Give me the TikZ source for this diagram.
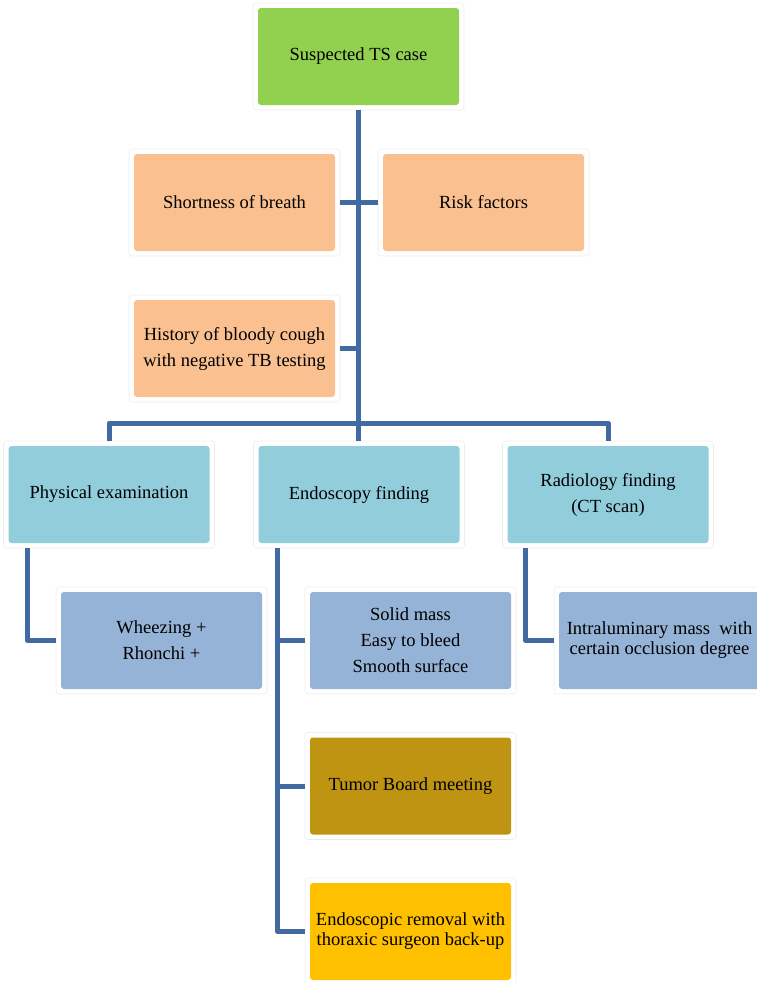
\documentclass[tikz,border=0pt]{standalone}
\usepackage{fontspec}
\setmainfont{Liberation Serif}
\usetikzlibrary{positioning}

\definecolor{caseg}{HTML}{92D050}
\definecolor{symp}{HTML}{FAC08F}
\definecolor{exam}{HTML}{92CDDC}
\definecolor{find}{HTML}{95B3D7}
\definecolor{tumor}{HTML}{BF9412}
\definecolor{plan}{HTML}{FFC000}
\definecolor{linec}{RGB}{66,106,162}

\tikzset{
  box/.style={rectangle, rounded corners=3pt, draw=black!7, line width=0.6pt,
    fill=white, minimum width=211pt, minimum height=107pt, inner sep=0pt,
    outer sep=0pt, align=center, font=\fontsize{18.5pt}{26pt}\selectfont,
    path picture={\fill[#1] ([shift={(5pt,-5pt)}]path picture bounding box.north west)
      rectangle ([shift={(-5pt,5pt)}]path picture bounding box.south east);}},
  link/.style={draw=linec, line width=5pt, line join=round},
  tight/.style={font=\fontsize{18.5pt}{20pt}\selectfont}
}

\begin{document}
\begin{tikzpicture}[x=1pt, y=-1pt]
\useasboundingbox (0,0) rectangle (757,983);

\node[box=caseg] (case) at (358.5,56.5) {Suspected TS case};

\node[box=symp] (sob) at (234.5,202.5) {Shortness of breath};
\node[box=symp] (risk) [right=38pt of sob] {Risk factors};
\node[box=symp] (hist) [below=39pt of sob] {History of bloody cough\\with negative TB testing};

\node[box=exam] (endo) at (359,494.5) {Endoscopy finding};
\node[box=exam] (pe) [left=39pt of endo] {Physical examination};
\node[box=exam] (ct) [right=38pt of endo] {Radiology finding\\(CT scan)};

\node[box=find] (wh) [below=39pt of pe, xshift=52.5pt] {Wheezing +\\Rhonchi +};
\node[box=find] (mass) [below=39pt of endo, xshift=51.5pt] {Solid mass\\Easy to bleed\\Smooth surface};
\node[box=find, tight] (occ) [below=39pt of ct, xshift=51.5pt] {Intraluminary mass\ \ with\\certain occlusion degree};
\node[box=tumor] (tb) [below=38.5pt of mass] {Tumor Board meeting};
\node[box=plan, tight] (rem) [below=38.5pt of tb] {Endoscopic removal with\\thoraxic surgeon back-up};

% trunk and branches
\coordinate (bar) at (358,423);
\draw[link] (case.south) -- (case.south |- endo.north);
\draw[link] (sob.east) -- (risk.west);
\draw[link] (hist.east) -- (hist.east -| case.south);
\draw[link] (pe.north) -- (pe.north |- bar) -- (ct.north |- bar) -- (ct.north);

% findings
\draw[link] ([xshift=24pt]pe.south west) |- (wh.west);
\foreach \n in {mass,tb,rem}
  \draw[link] ([xshift=24pt]endo.south west) |- (\n.west);
\draw[link] ([xshift=23pt]ct.south west) |- (occ.west);
\end{tikzpicture}
\end{document}
